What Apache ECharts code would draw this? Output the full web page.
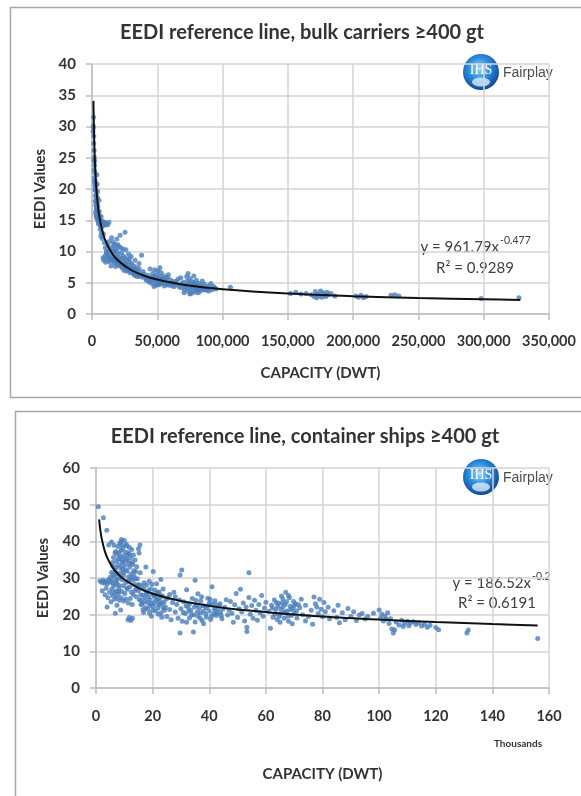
<!DOCTYPE html>
<html><head><meta charset="utf-8">
<script src="https://cdn.jsdelivr.net/npm/echarts@6/dist/echarts.min.js"></script>
<style>html,body{margin:0;padding:0;background:#fff}#c{width:581px;height:796px}</style>
</head><body><div id="c"></div>
<script>
// ---- Chart 1: bulk carriers (x = DWT, y = EEDI) ----
const bulkXTicks = [0, 50000, 100000, 150000, 200000, 250000, 300000, 350000];
const bulkYTicks = [0, 5, 10, 15, 20, 25, 30, 35, 40];
const bulkPoints = [
[800,29.2],[1000,30.1],[1200,31.5],[1100,29.8],[1400,28.5],[1600,26.2],[1800,25.1],[2000,23.8],[2200,22.6],[2100,24.5],[2400,21.3],[2600,20.4],[2800,19.8],[3000,20.6],[3200,19.2],[3400,18.5],[2500,18.1],[2900,17.4],[3300,17.8],[3600,17.1],[3800,16.6],[2700,16.3],[3100,15.8],[3500,15.4],[4000,16.9],[4200,17.6],[4500,17.2],[4800,16.1],[5200,15.7],[4400,15.1],[5600,16.4],[6000,15.2],[6500,14.8],[7000,15.6],[7500,14.6],[8000,14.9],[8500,14.3],[9000,14.7],[9500,14.5],[10000,14.2],[10500,14.6],[11000,14.4],[12000,14.3],[13000,14.7],[5000,14.4],[6200,13.6],[7200,13.1],[6800,12.5],[7800,12.1],[3700,22.3],[3900,20.8],[4300,19.6],[4100,18.7],[2300,19.9],[1900,21.8],[5300,18.2],
[1300,27.3],[1500,24.6],[1700,23.1],[2000,21.2],[2300,20.8],[2700,18.9],[3100,18.0],[3400,16.8],[3700,15.9],[4000,15.6],[4600,14.9],[5400,14.6],[6400,14.2],[7400,13.9],[8800,12.8],[9500,11.4],[10200,10.6],[11200,9.8],
[8500,9.0],[9000,8.6],[10000,9.3],[10500,8.3],[11500,8.8],[12000,9.6],[13000,8.4],[13500,10.2],[14000,9.1],[15000,10.5],[15500,9.7],[16000,8.7],[16500,10.9],[17000,9.9],[17500,11.2],[18000,10.4],[18500,9.2],[19000,10.1],[19500,8.6],[20000,9.5],[20500,10.8],[21000,9.0],[21500,12.6],[22000,8.2],[22500,9.8],[23000,8.9],[23500,7.9],[24000,9.3],[24500,8.4],[25000,7.6],[25300,13.1],[25500,9.0],[26000,8.1],[26500,7.3],[27000,8.7],[27500,7.8],[28000,9.6],[28500,7.1],[29000,8.3],[29500,7.5],[30000,6.8],[30500,8.0],[31000,7.2],[31500,6.5],[32000,7.7],[32500,6.2],[33000,7.0],[33500,6.6],[34000,7.4],[34500,6.0],[35000,6.9],[35500,6.3],[36000,7.3],[37000,6.5],[38000,9.4],[38500,6.1],[39000,6.8],[40000,6.4],[41000,5.9],[18000,7.6],[20000,7.9],[22000,10.6],[16000,11.5],[19000,12.0],[12500,10.9],[14500,7.7],[17000,8.2],[26000,10.3],[30000,9.2],[33000,8.6],[36000,8.1],[11000,10.0],[13000,11.6],[15000,12.2],
[12300,9.2],[13400,8.9],[14600,8.5],[15800,9.0],[17200,8.8],[18600,8.3],[20000,8.6],[21500,7.7],[23000,7.4],[24500,7.0],[26000,6.9],[27500,7.0],[29000,6.6],[31000,6.9],[33500,6.2],[36500,6.0],[39000,5.9],[16800,10.0],[19800,11.1],[23800,10.4],[28600,8.9],
[42000,5.6],[43000,6.2],[44000,5.1],[45000,5.8],[46000,4.9],[46500,6.5],[47000,5.4],[48000,7.1],[48500,5.9],[49000,4.6],[49500,6.3],[50000,5.2],[50500,6.9],[51000,5.6],[51500,4.7],[52000,6.0],[52500,5.3],[53000,6.6],[53500,4.9],[54000,5.7],[54500,5.1],[55000,6.1],[55500,4.5],[56000,5.4],[57000,4.8],[57500,5.9],[58000,5.0],[59000,4.6],[60000,5.5],[61000,4.9],[62000,5.2],[63000,4.4],[64000,5.0],[65000,4.7],[66000,5.6],[67000,4.3],[44500,7.2],[47500,4.4],[52000,7.4],[58500,6.3],
[41500,5.4],[43500,5.3],[45500,5.5],[47000,6.0],[49000,5.4],[50500,4.8],[52500,5.0],[54500,5.4],[56500,5.7],[58500,4.8],[61500,4.5],[64500,5.3],
[68000,5.8],[69000,4.2],[70000,5.1],[71000,3.8],[72000,4.6],[72500,6.0],[73000,5.3],[73600,6.5],[74000,3.6],[74500,4.9],[75000,5.7],[75500,4.1],[76000,3.3],[76500,5.2],[77000,4.4],[77500,3.7],[78000,5.0],[78500,4.7],[79000,3.5],[79500,4.2],[80000,5.4],[80500,3.9],[81000,4.6],[81500,3.4],[82000,4.9],[82500,4.1],[83000,3.7],[84000,4.5],[85000,3.9],[86000,4.8],[87000,4.2],[88000,3.8],[89000,4.5],[90000,4.1],[91000,4.9],[92000,3.9],[93000,4.4],[94000,4.2],[95000,4.0],[106000,4.3],[75000,3.2],[78000,6.1],[70500,3.4],[84500,5.3],
[68500,4.9],[71500,4.4],[73500,4.1],[76000,4.5],[79000,4.4],[81000,4.1],[83500,4.3],[86500,3.9],[89500,3.7],
[152000,3.3],[156000,3.5],[160000,3.2],[164000,3.3],[168000,3.1],[170000,2.8],[171000,3.6],[172000,2.6],[173000,3.2],[174000,2.9],[175000,3.7],[176000,2.7],[177000,3.4],[178000,3.0],[179000,2.8],[180000,3.5],[181000,3.1],[183000,3.3],[186000,2.9],
[202000,2.9],[204000,2.7],[206000,3.0],[208000,2.6],[210000,2.8],[229000,3.0],[232000,3.1],[235000,2.9],[298000,2.5],[327000,2.6]
];
const bulkTrend = [[1100,34.1],[1300,31.4],[1500,29.4],[2000,25.6],[3000,21.1],[4000,18.4],[5000,16.5],[7000,14.1],[10000,11.9],[15000,9.8],[20000,8.54],[30000,7.04],[40000,6.13],[50000,5.51],[70000,4.69],[100000,3.96],[150000,3.27],[200000,2.85],[250000,2.56],[300000,2.35],[328000,2.25]];

// ---- Chart 2: container ships (x = thousand DWT, y = EEDI) ----
const contXTicks = [0, 20, 40, 60, 80, 100, 120, 140, 160];
const contYTicks = [0, 10, 20, 30, 40, 50, 60];
const contPoints = [
[0.8,49.4],[2.6,46.4],[3.8,43.0],[4.5,39.0],[5.5,39.8],
[1.4,29.2],[2.0,28.8],[2.5,29.4],[3.0,28.6],[3.5,29.1],[4.0,28.4],[4.5,29.6],[5.0,28.9],[5.5,29.3],[6.0,28.5],
[2.2,26.5],[3.2,25.4],[3.6,27.2],[4.2,24.6],[4.8,26.1],[5.3,23.5],[5.8,25.2],[6.3,27.8],[6.6,24.2],[7.0,26.4],[7.4,22.6],[7.8,25.6],[8.3,23.9],[8.7,21.3],[6.8,20.4],[3.9,22.1],[5.1,30.2],
[5.5,31.5],[6.0,33.2],[6.2,35.6],[6.5,30.4],[6.8,32.1],[7.0,37.2],[7.2,34.5],[7.4,31.2],[7.6,36.4],[7.8,38.6],[8.0,33.5],[8.2,30.1],[8.4,39.5],[8.5,35.8],[8.7,32.8],[8.9,37.6],[9.0,40.5],[9.2,34.1],[9.3,29.5],[9.5,38.2],[9.6,36.0],[9.8,31.6],[10.0,40.2],[10.1,33.4],[10.3,37.1],[10.5,35.2],[10.6,28.8],[10.8,38.8],[11.0,31.9],[11.2,34.7],[11.4,36.9],[11.5,30.3],[11.7,38.4],[11.9,33.0],[12.0,27.6],[12.2,35.5],[12.4,31.1],[12.6,37.8],[12.8,29.4],[13.0,33.7],[13.2,36.3],[13.4,30.6],[13.6,28.2],[13.8,34.9],[14.0,31.8],[14.3,27.1],[7.3,28.4],[8.1,27.2],[9.1,26.3],[10.2,25.8],[11.1,26.9],[12.1,24.4],[13.1,25.5],[14.2,24.9],[6.4,38.9],[8.8,39.9],[10.7,39.2],[11.8,36.5],[9.4,32.5],
[5.8,34.2],[6.1,30.9],[6.7,36.8],[7.1,33.0],[7.5,29.6],[7.9,35.1],[8.3,37.0],[8.6,31.4],[9.0,35.0],[9.2,38.9],[9.7,30.7],[9.9,34.6],[10.4,32.2],[10.9,36.1],[11.3,29.1],[11.6,33.9],[12.3,30.0],[12.7,34.2],[13.3,32.0],[13.9,29.7],[14.4,33.1],[14.8,28.0],[6.9,29.1],[8.0,28.1],[9.6,27.9],[10.9,27.3],[12.5,26.1],[13.7,26.6],
[5.6,27.0],[6.4,25.9],[7.2,24.8],[8.0,26.3],[8.9,24.6],[9.8,23.7],[10.5,24.3],[11.4,23.2],[12.8,22.8],
[11.3,18.6],[11.8,19.2],[12.3,18.4],[12.9,19.0],
[15.5,39.0],[15.0,38.0],[15.2,36.8],
[14.6,29.8],[15.0,26.5],[15.3,24.1],[15.6,31.4],[15.9,22.8],[16.2,27.9],[16.5,25.3],[16.8,20.6],[17.0,28.7],[17.3,23.6],[17.6,33.0],[17.9,26.0],[18.2,21.5],[18.5,24.8],[18.8,29.1],[19.0,22.4],[19.3,27.0],[19.6,19.6],[19.9,25.6],[20.2,31.8],[20.5,23.2],[20.8,26.7],[21.1,21.0],[21.4,28.4],[21.7,24.3],[22.0,20.1],[22.3,26.2],[22.6,22.7],[22.9,29.6],[23.2,19.3],[23.5,25.0],[23.8,21.8],[16.0,23.9],[17.5,21.9],[19.5,23.0],[21.0,25.3],[22.5,24.0],[18.0,25.9],[20.0,21.2],[24.0,23.4],
[15.1,28.2],[15.8,25.4],[16.4,22.9],[16.9,26.9],[17.4,24.7],[17.8,28.0],[18.3,23.3],[18.6,26.6],[19.1,24.1],[19.7,28.3],[20.3,22.2],[20.6,25.0],[21.2,23.9],[21.6,26.0],[22.1,22.9],[22.8,25.2],[23.3,23.1],[23.7,27.0],[24.2,21.2],[24.8,24.3],[16.6,21.4],[18.9,20.4],[21.9,21.8],[23.0,20.5],
[24.5,22.1],[25.0,19.5],[25.5,24.6],[26.0,21.4],[26.5,18.6],[27.0,23.3],[27.5,26.1],[28.0,20.7],[28.5,22.8],[29.0,19.0],[29.5,24.0],[29.7,30.8],[30.3,32.2],[29.7,15.0],[30.0,21.6],[30.5,18.2],[31.0,23.5],[31.5,20.3],[32.0,26.8],[32.5,22.0],[33.0,19.1],[33.5,21.2],[34.0,24.4],[34.4,15.3],[34.5,20.0],[35.0,29.4],[35.0,18.0],[35.5,22.6],[36.0,19.6],[36.5,21.8],[37.0,23.7],[37.5,18.4],[38.0,20.9],[38.5,22.3],[39.0,19.3],[39.5,24.5],[40.0,21.0],[40.5,18.7],[41.0,27.6],[41.0,22.9],[41.5,20.2],[42.0,23.8],[42.5,19.8],[43.0,21.5],[43.5,22.4],[44.0,20.6],[44.5,18.9],[26.0,25.5],[28.0,24.9],[32.0,17.9],[36.0,25.7],[38.0,17.5],[40.0,23.1],[33.0,22.9],[37.0,20.5],[39.0,21.9],[42.0,21.1],
[30.8,20.6],[31.8,22.4],[32.8,20.9],[33.8,19.9],[34.8,22.1],[35.8,20.8],[36.8,19.0],[37.8,22.4],[38.8,20.1],[39.8,22.6],[40.8,19.6],[41.8,21.8],[42.8,20.4],[43.8,23.0],[44.8,21.6],[35.3,23.9],[37.3,24.9],[40.3,24.2],[42.3,22.7],[44.2,19.7],
[45.5,22.0],[46.0,24.1],[46.5,19.9],[47.0,21.3],[47.5,23.6],[48.0,20.4],[48.5,17.9],[49.0,22.7],[49.5,25.8],[50.0,19.2],[50.5,21.6],[51.0,26.9],[51.5,20.8],[52.0,23.2],[52.5,18.3],[53.0,22.1],[53.3,16.6],[53.3,15.4],[54.0,31.4],[54.0,24.7],[54.5,20.1],[55.0,22.5],[55.5,19.0],[56.0,23.9],[56.5,21.2],[57.0,18.5],[57.5,22.8],[58.0,20.5],[58.5,25.2],[59.0,19.6],[59.5,21.8],[60.0,23.4],
[61.0,20.9],[61.6,16.3],[62.0,22.6],[62.5,19.3],[63.0,24.0],[63.5,21.4],[64.0,18.7],[64.5,23.1],[65.0,20.2],[65.5,25.1],[66.0,22.0],[66.5,19.0],[67.0,26.1],[67.3,23.5],[67.6,21.0],[68.0,18.2],[68.3,24.6],[68.6,22.3],[69.0,19.8],[69.3,17.5],[69.6,21.7],[70.0,20.4],[70.5,23.0],[71.0,19.1],[72.0,21.9],[72.5,24.2],[73.0,20.0],[74.0,22.6],[75.0,19.5],[76.0,21.2],[77.0,24.8],[77.5,23.0],[78.0,22.1],[78.5,20.3],[79.0,24.2],[79.5,21.5],[80.0,19.4],[80.5,23.3],[81.0,20.8],[82.0,22.0],[82.5,18.9],[65.0,17.9],[66.0,24.3],[67.0,20.7],[68.0,25.2],[70.0,22.5],[74.0,18.3],[76.5,17.4],
[62.3,21.8],[63.2,20.1],[64.2,22.3],[64.8,19.6],[65.8,23.2],[66.3,20.6],[66.8,22.8],[67.8,19.6],[68.8,21.4],[69.8,23.6],[70.8,21.0],[71.5,22.7],[63.7,23.3],[65.3,21.5],
[84.0,21.1],[85.0,19.2],[85.5,22.6],[86.0,17.8],[87.0,20.5],[88.0,18.6],[89.0,21.7],[90.0,19.5],[91.0,20.8],[92.0,18.4],[93.0,19.9],[94.0,20.3],[95.0,18.8],[96.0,19.6],[98.0,20.4],
[100.0,21.3],[100.5,19.0],[101.0,20.1],[101.5,18.3],[102.0,19.6],[102.5,18.8],[103.0,20.5],[103.5,17.6],[104.0,18.9],[104.5,16.1],[105.0,15.0],[105.5,15.9],[106.0,18.0],[107.0,17.2],[108.0,18.5],[108.5,16.8],[109.0,17.6],[110.0,18.2],[110.5,17.0],[111.0,17.7],[112.0,18.1],[113.0,17.3],[114.0,17.8],[115.0,16.9],[116.0,17.4],[117.0,16.6],[118.0,17.1],[120.0,16.5],[121.0,15.9],
[131.0,15.0],[131.5,15.8],[156.0,13.5]
];
const contTrend = [[1.1,46.0],[1.5,43.2],[2,40.8],[3,37.6],[4,35.5],[6,32.7],[8,30.9],[10,29.6],[15,27.3],[20,25.7],[30,23.7],[40,22.4],[50,21.4],[60,20.7],[80,19.5],[100,18.65],[120,17.98],[140,17.44],[156,17.07]];

const FONT = 'Lato';
const TXT = '#333333';
const GRID_C = '#d4d4d4';
const AX_C = '#bdbdbd';
const DOT = '#4a7ebb';

function fmtComma(v){ return Number(v).toLocaleString('en-US'); }

function xAxisCfg(idx, ticks, nameGap, margin, fmt){
  return {
    type:'value', gridIndex:idx, min:ticks[0], max:ticks[ticks.length-1], interval:ticks[1]-ticks[0],
    axisLine:{show:true, lineStyle:{color:AX_C, width:1.5}},
    axisTick:{show:true, length:6, lineStyle:{color:AX_C, width:1.5}},
    splitLine:{show:true, lineStyle:{color:GRID_C, width:1.5}},
    axisLabel:{formatter:fmt, fontFamily:FONT, fontWeight:'bold', fontSize:14.5, color:TXT, margin:margin},
    name:'CAPACITY (DWT)', nameLocation:'middle', nameGap:nameGap,
    nameTextStyle:{fontFamily:FONT, fontWeight:'bold', fontSize:15, color:TXT}
  };
}
function yAxisCfg(idx, ticks, nameGap){
  return {
    type:'value', gridIndex:idx, min:ticks[0], max:ticks[ticks.length-1], interval:ticks[1]-ticks[0],
    axisLine:{show:true, lineStyle:{color:AX_C, width:1.5}},
    axisTick:{show:true, length:6, lineStyle:{color:AX_C, width:1.5}},
    splitLine:{show:true, lineStyle:{color:GRID_C, width:1.5}},
    axisLabel:{fontFamily:FONT, fontWeight:'bold', fontSize:15, color:TXT, margin:16},
    name:'EEDI Values', nameLocation:'middle', nameGap:nameGap, nameRotate:90,
    nameTextStyle:{fontFamily:FONT, fontWeight:'bold', fontSize:15, color:TXT}
  };
}

function logo(cx, cy){
  return {
    type:'group', children:[
      {type:'circle', shape:{cx:cx, cy:cy, r:18}, style:{fill:{type:'radial', x:0.45, y:0.4, r:0.65, colorStops:[
        {offset:0, color:'#9fd8ff'},{offset:0.45, color:'#2d8fe0'},{offset:1, color:'#0b3d8f'}]}}},
      {type:'ellipse', shape:{cx:cx, cy:cy+10, rx:9, ry:4.5}, style:{fill:'rgba(230,245,255,0.75)'}},
      {type:'text', x:cx, y:cy-2, style:{text:'IHS', fontFamily:'Liberation Serif', fontSize:14, fill:'#ffffff', align:'center', verticalAlign:'middle'}},
      {type:'text', x:cx+22, y:cy+1, style:{text:'Fairplay', fontFamily:'Liberation Sans', fontSize:14, fill:'#4d4d4d', align:'left', verticalAlign:'middle'}}
    ]
  };
}

const chart = echarts.init(document.getElementById('c'), null, {renderer:'canvas'});
chart.setOption({
  animation:false,
  backgroundColor:'#ffffff',
  grid:[
    {left:92, right:32, top:64, height:250},
    {left:96, right:32, top:468, height:220}
  ],
  xAxis:[
    xAxisCfg(0, bulkXTicks, 51.5, 20, fmtComma),
    xAxisCfg(1, contXTicks, 78.5, 21, null)
  ],
  yAxis:[ yAxisCfg(0, bulkYTicks, 44.5), yAxisCfg(1, contYTicks, 45) ],
  series:[
    {type:'scatter', xAxisIndex:0, yAxisIndex:0, data:bulkPoints, symbolSize:5, itemStyle:{color:DOT}},
    {type:'line', xAxisIndex:0, yAxisIndex:0, data:bulkTrend, smooth:0.3, showSymbol:false, lineStyle:{color:'#111', width:2}, z:5},
    {type:'scatter', xAxisIndex:1, yAxisIndex:1, data:contPoints, symbolSize:5, itemStyle:{color:DOT}},
    {type:'line', xAxisIndex:1, yAxisIndex:1, data:contTrend, smooth:0.3, showSymbol:false, lineStyle:{color:'#111', width:2}, z:5}
  ],
  graphic:[
    {type:'rect', shape:{x:10.5, y:7.5, width:620, height:390}, style:{fill:'none', stroke:'#a8a8a8', lineWidth:1.5}, z:-1},
    {type:'rect', shape:{x:15.5, y:411.5, width:620, height:420}, style:{fill:'none', stroke:'#a8a8a8', lineWidth:1.5}, z:-1},
    {type:'text', x:302, y:33, style:{text:'EEDI reference line, bulk carriers \u2265400 gt', fontFamily:FONT, fontWeight:'bold', fontSize:20, fill:TXT, align:'center', verticalAlign:'middle'}},
    {type:'text', x:305, y:437, style:{text:'EEDI reference line, container ships \u2265400 gt', fontFamily:FONT, fontWeight:'bold', fontSize:20, fill:TXT, align:'center', verticalAlign:'middle'}},
    logo(481, 72),
    logo(481, 477),
    {type:'text', x:499, y:247, style:{text:'y = 961.79x', fontFamily:FONT, fontSize:15, fill:'#404040', align:'right', verticalAlign:'middle'}},
    {type:'text', x:500, y:241, style:{text:'-0.477', fontFamily:FONT, fontSize:10.5, fill:'#404040', align:'left', verticalAlign:'middle'}},
    {type:'text', x:475, y:268, style:{text:'R\u00b2 = 0.9289', fontFamily:FONT, fontSize:15, fill:'#404040', align:'center', verticalAlign:'middle'}},
    {type:'text', x:531, y:583, style:{text:'y = 186.52x', fontFamily:FONT, fontSize:15, fill:'#404040', align:'right', verticalAlign:'middle'}},
    {type:'text', x:532, y:577, style:{text:'-0.2', fontFamily:FONT, fontSize:10.5, fill:'#404040', align:'left', verticalAlign:'middle'}},
    {type:'text', x:497, y:603, style:{text:'R\u00b2 = 0.6191', fontFamily:FONT, fontSize:15, fill:'#404040', align:'center', verticalAlign:'middle'}},
    {type:'text', x:518, y:744, style:{text:'Thousands', fontFamily:FONT, fontWeight:'bold', fontSize:10, fill:TXT, align:'center', verticalAlign:'middle'}}
  ]
});
</script>
</body></html>
